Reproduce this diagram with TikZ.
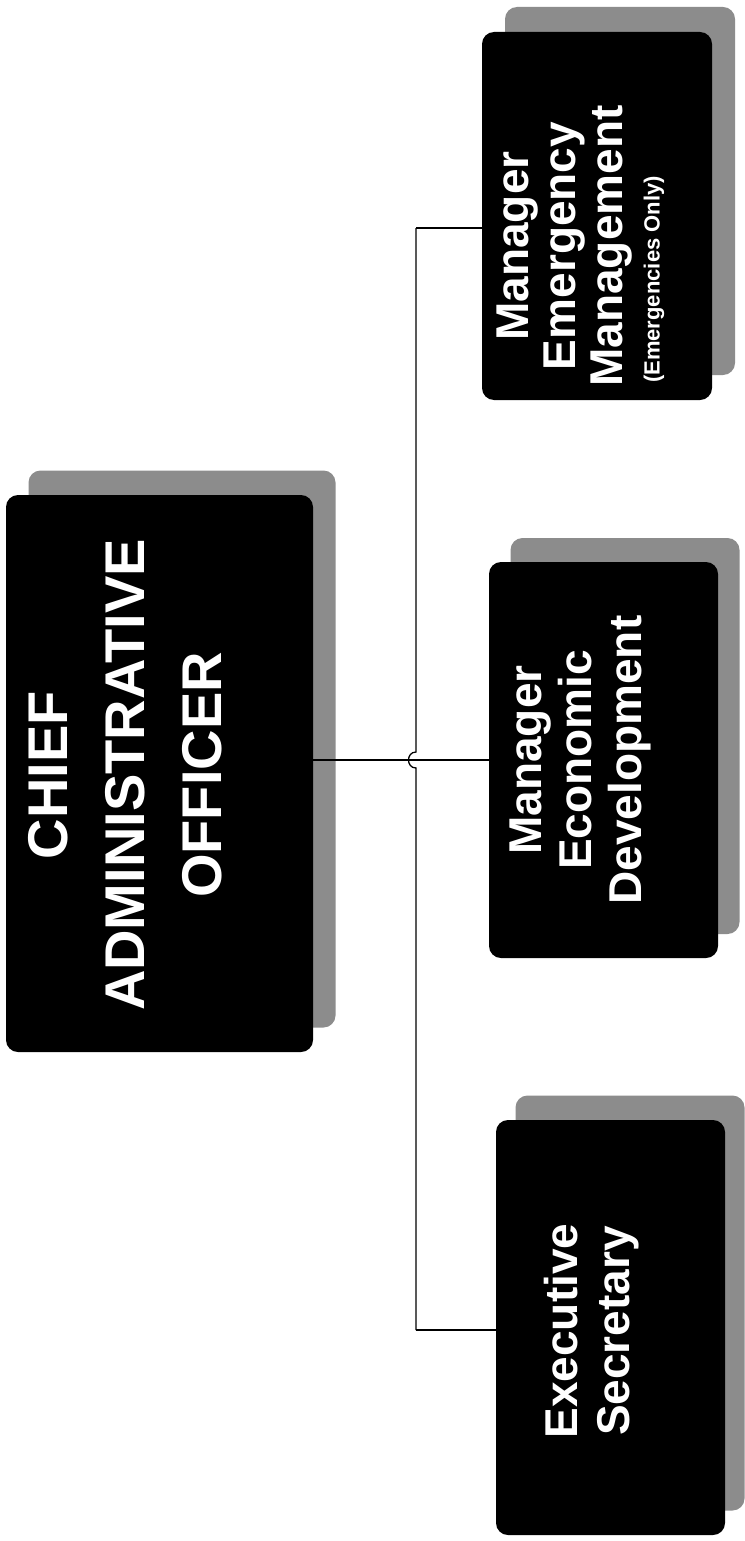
\documentclass[tikz,border=0pt]{standalone}
\usepackage{fontspec}
\setmainfont{Liberation Sans}
\begin{document}
\begin{tikzpicture}[x=1pt,y=-1pt,
  box/.style={fill=black, rounded corners=12pt, inner sep=0pt, draw=none},
  shadowbox/.style={fill=black!45, rounded corners=12pt, inner sep=0pt, draw=none},
  lbl/.style={rotate=90, text=white, align=center, inner sep=0pt},
  wire/.style={draw=black, line width=1.3pt}
]
\useasboundingbox[fill=white] (0,0) rectangle (744,1541);

% shadows
\node[shadowbox, minimum width=307pt, minimum height=557pt] (caosh) at (182,749) {};
\node[shadowbox, minimum width=230pt, minimum height=368pt] (emgsh) at (620,191) {};
\node[shadowbox, minimum width=229pt, minimum height=396pt] (ecosh) at (625,736) {};
\node[shadowbox, minimum width=229pt, minimum height=415pt] (exesh) at (630,1303) {};

% boxes
\node[box, minimum width=307pt, minimum height=557pt] (cao) at (159.5,773.5) {};
\node[box, minimum width=230pt, minimum height=368pt] (emg) at (597,216) {};
\node[box, minimum width=229pt, minimum height=396pt] (eco) at (603.5,760) {};
\node[box, minimum width=229pt, minimum height=415pt] (exe) at (610.5,1327.5) {};

% texts
\node[lbl, font=\fontsize{56}{77}\selectfont\bfseries] (caot) at (125,775) {CHIEF\\ADMINISTRATIVE\\OFFICER};
\node[lbl, font=\fontsize{46}{47}\selectfont\bfseries] (emgt) at (565,246) {Manager\\Emergency\\Management};
\node[lbl, font=\fontsize{22}{24}\selectfont\bfseries, anchor=west] (emgn) at (654,383) {(Emergencies Only)};
\node[lbl, font=\fontsize{46}{50}\selectfont\bfseries] (ecot) at (580,760) {Manager\\Economic\\Development};
\node[lbl, font=\fontsize{46}{52}\selectfont\bfseries] (exet) at (592,1331) {Executive\\Secretary};

% connectors
\coordinate (j1) at (416,228);
\coordinate (j3) at (416,1330);
\coordinate (hop1) at (416,752);
\coordinate (hop2) at (416,768);
\draw[wire] (cao.east |- eco.west) -- (eco.west);
\draw[wire] (j1) -- (j1 -| emg.west);
\draw[wire] (j3) -- (j3 -| exe.west);
\draw[wire] (j1) -- (hop1) .. controls (406,752) and (406,768) .. (hop2) -- (j3);
\end{tikzpicture}
\end{document}
